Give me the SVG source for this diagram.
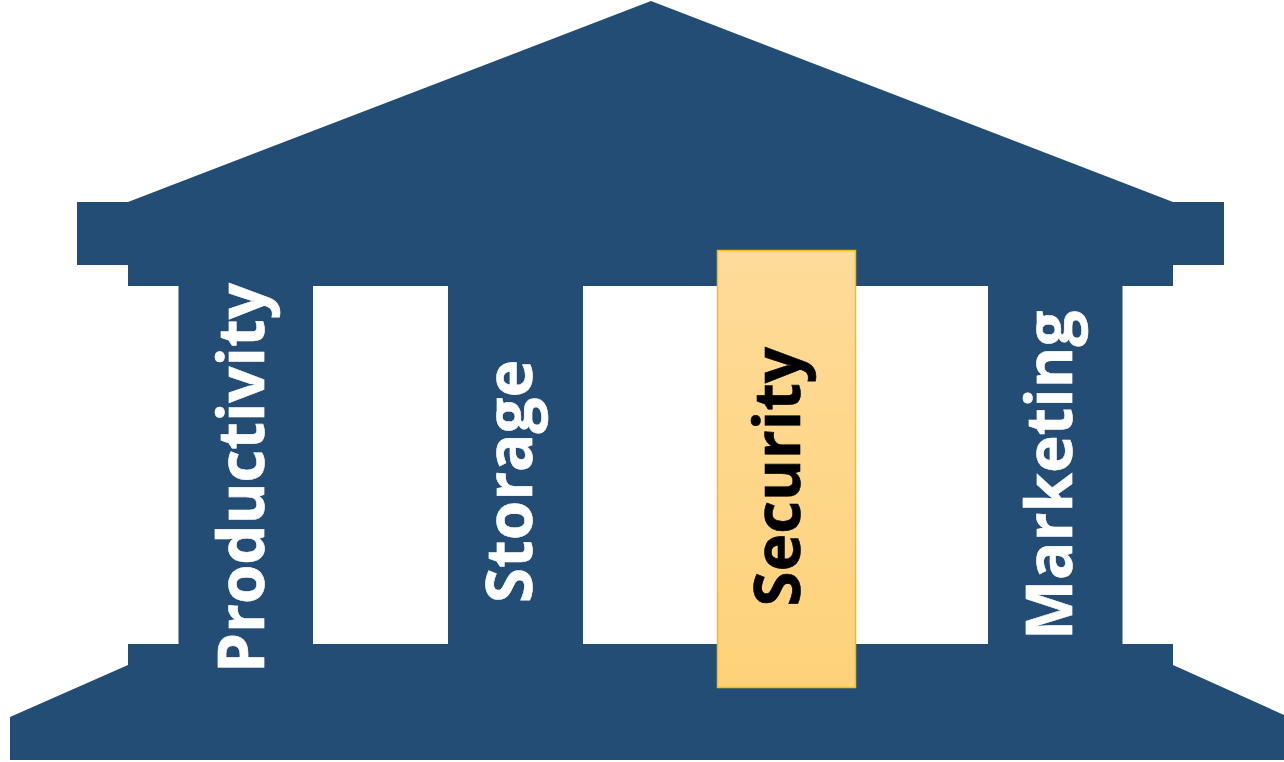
<svg xmlns="http://www.w3.org/2000/svg" width="1284" height="762" viewBox="0 0 1284 762">
<defs><linearGradient id="g" x1="0" y1="0" x2="0" y2="1"><stop offset="0" stop-color="#fedb99"/><stop offset="1" stop-color="#fed27a"/></linearGradient></defs>
<style>.l{font-family:"Open Sans","Noto Sans",sans-serif;font-weight:700;font-size:63.700px;fill:#fff;stroke:#fff;stroke-width:.6px}.k{fill:#000;stroke:#000}</style>
<g id="temple"><path fill="#234d75" d="M651 1L1173 202H1224V265H1173V286H1122.500V644H1173V665L1284 715V760H10V717L128 665V644H178.500V286H128V265H77V202H128ZM313 286V644H448V286ZM583 286V644H988V286Z"/></g>
<g id="productivity"><text class="l" transform="translate(264 673) rotate(-90)">Productivity</text></g>
<g id="storage"><text class="l" transform="translate(531.500 603) rotate(-90)">Storage</text></g>
<g id="security"><rect x="717.500" y="250.500" width="138" height="437" fill="url(#g)" stroke="#f7bd10" stroke-width="1.500"/><text class="l k" transform="translate(799.500 606.500) rotate(-90)">Security</text></g>
<g id="marketing"><text class="l" transform="translate(1071.500 640) rotate(-90)">Marketing</text></g>
<g id="connectors"></g>
</svg>
